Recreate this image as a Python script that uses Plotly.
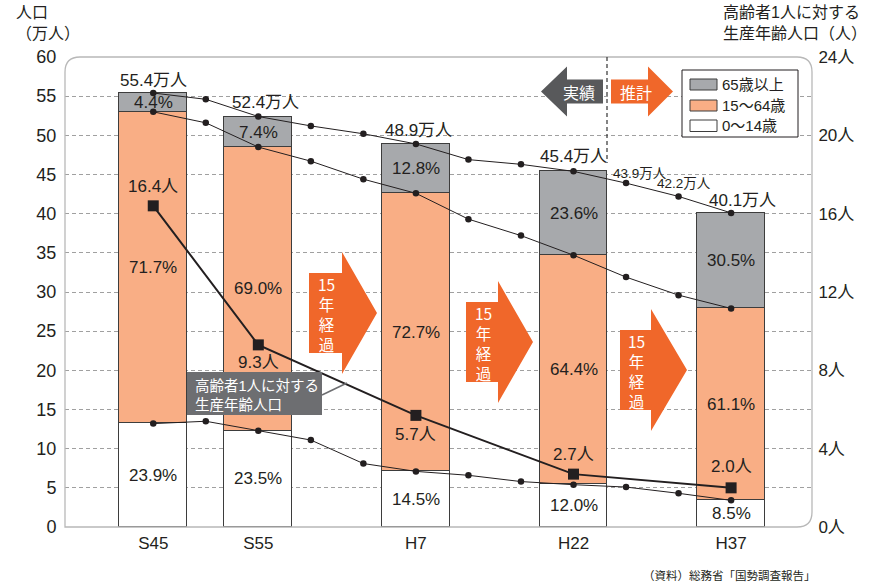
import plotly.graph_objects as go

# ---- data -------------------------------------------------------------
bar_years = [1970, 1980, 1995, 2010, 2025]
bar_labels = ["S45", "S55", "H7", "H22", "H37"]
total_pop = [55.4, 52.4, 48.9, 45.4, 40.1]        # 万人
share_0_14 = [23.9, 23.5, 14.5, 12.0, 8.5]        # %
share_15_64 = [71.7, 69.0, 72.7, 64.4, 61.1]      # %
share_65 = [4.4, 7.4, 12.8, 23.6, 30.5]           # %
support_ratio = [16.4, 9.3, 5.7, 2.7, 2.0]        # 人 (15-64 per person 65+)

line_years = [1970, 1975, 1980, 1985, 1990, 1995, 2000, 2005, 2010, 2015, 2020, 2025]
line_total = [55.4, 54.6, 52.4, 51.2, 50.2, 48.9, 46.9, 46.3, 45.4, 43.9, 42.2, 40.1]
line_under65 = [53.0, 51.6, 48.5, 46.7, 44.4, 42.6, 39.3, 37.2, 34.7, 31.9, 29.6, 27.9]
line_under15 = [13.2, 13.5, 12.3, 11.1, 8.1, 7.1, 6.6, 5.8, 5.4, 5.1, 4.3, 3.4]

# ---- styling ----------------------------------------------------------
NUM = "Liberation Sans, Arial, Noto Sans CJK JP"
JP = "Noto Sans CJK JP, Noto Sans CJK SC, sans-serif"
INK = "#231f20"
GRAY = "#a7a9ac"
ORANGE = "#f9ae85"
ARROW = "#f0672a"
DARK = "#58595b"
EDGE = "#3d3d3d"

# plot-area geometry (pixels) used to place decorations in paper units
L, R, T, B = 65, 812, 57, 527
W, H = R - L, B - T


def px(x):
    return (x - L) / W


def py(y):
    return (B - y) / H


def pt(x, y):
    return f"{px(x):.5f},{py(y):.5f}"


# segment sizes (万人)
seg_0_14 = [t * s / 100 for t, s in zip(total_pop, share_0_14)]
seg_15_64 = [t * s / 100 for t, s in zip(total_pop, share_15_64)]
seg_65 = [t * s / 100 for t, s in zip(total_pop, share_65)]

BAR_W = 6.47  # years

fig = go.Figure()
for vals, col in [(seg_0_14, "white"), (seg_15_64, ORANGE), (seg_65, GRAY)]:
    fig.add_trace(go.Bar(
        x=bar_years, y=vals, width=BAR_W, marker=dict(color=col, line=dict(color=EDGE, width=1.3)),
        hoverinfo="skip", showlegend=False))

for vals in [line_total, line_under65, line_under15]:
    fig.add_trace(go.Scatter(
        x=line_years, y=vals, mode="lines+markers",
        line=dict(color=INK, width=1), marker=dict(color=INK, size=6.5),
        hoverinfo="skip", showlegend=False))

fig.add_trace(go.Scatter(
    x=bar_years, y=support_ratio, yaxis="y2", mode="lines+markers",
    line=dict(color=INK, width=2), marker=dict(color=INK, size=11, symbol="square"),
    hoverinfo="skip", showlegend=False))

ann = []

# percentage labels inside the bar segments
for i, yr in enumerate(bar_years):
    bottoms = [0, seg_0_14[i], seg_0_14[i] + seg_15_64[i]]
    sizes = [seg_0_14[i], seg_15_64[i], seg_65[i]]
    shares = [share_0_14[i], share_15_64[i], share_65[i]]
    for b0, sz, sh in zip(bottoms, sizes, shares):
        ann.append(dict(x=yr, y=b0 + sz / 2, xref="x", yref="y", text=f"{sh:.1f}%",
                        showarrow=False, font=dict(family=NUM, size=17, color=INK)))

# total population labels
total_shift = [(0, 13), (7, 14), (3, 13), (0, 15), (11, 12)]
for yr, v, (dx, dy) in zip(bar_years, total_pop, total_shift):
    ann.append(dict(x=yr, y=v, xref="x", yref="y", text=f"{v}万人", showarrow=False,
                    xshift=dx, yshift=dy, font=dict(family=NUM, size=17, color=INK)))
for idx, (dx, dy) in [(9, (14, 10)), (10, (5, 13))]:
    ann.append(dict(x=line_years[idx], y=line_total[idx], xref="x", yref="y",
                    text=f"{line_total[idx]}万人", showarrow=False, xshift=dx, yshift=dy,
                    font=dict(family=NUM, size=13.5, color=INK)))

# support ratio labels
ratio_shift = [19, -18, -19, 20, 21]
for yr, v, dy in zip(bar_years, support_ratio, ratio_shift):
    ann.append(dict(x=yr, y=v, xref="x", yref="y2", text=f"{v}人", showarrow=False,
                    yshift=dy, font=dict(family=NUM, size=17, color=INK)))


def ptext(x, y, text, size, color=INK, anchor="center", family=JP):
    ann.append(dict(x=px(x), y=py(y), xref="paper", yref="paper", text=text, showarrow=False,
                    xanchor=anchor, yanchor="middle", align=anchor if anchor != "center" else "center",
                    font=dict(family=family, size=size, color=color)))


# axis titles
ptext(14, 23, "人口<br>（万人）", 16, anchor="left", family=NUM)
ptext(721, 23, "高齢者1人に対する<br>生産年齢人口（人）", 16, anchor="left", family=NUM)

# source
ptext(818, 575, "（資料）総務省「国勢調査報告」", 11.5, anchor="right")

shapes = []

# rounded plot frame
rr = 15
frame = (f"M{pt(L, B)} L{pt(L, T + rr)} Q{pt(L, T)} {pt(L + rr, T)} "
         f"L{pt(R - rr, T)} Q{pt(R, T)} {pt(R, T + rr)} "
         f"L{pt(R, B - rr)} Q{pt(R, B)} {pt(R - rr, B)} Z")
shapes.append(dict(type="path", xref="paper", yref="paper", path=frame,
                   line=dict(color="#b8b8b8", width=1.3), layer="above"))


def right_arrow(x0, x1, tip, yc, hr, hh):
    return (f"M{pt(x0, yc - hr)} L{pt(x1, yc - hr)} L{pt(x1, yc - hh)} L{pt(tip, yc)} "
            f"L{pt(x1, yc + hh)} L{pt(x1, yc + hr)} L{pt(x0, yc + hr)} Z")


def left_arrow(tip, x1, x0, yc, hr, hh):
    return (f"M{pt(tip, yc)} L{pt(x1, yc - hh)} L{pt(x1, yc - hr)} L{pt(x0, yc - hr)} "
            f"L{pt(x0, yc + hr)} L{pt(x1, yc + hr)} L{pt(x1, yc + hh)} Z")


# "15年経過" arrows between survey years (text stacked vertically)
for x0, x1, tip, yc in [(309, 342, 377, 313), (466, 498, 533, 342), (620, 651, 687, 370)]:
    shapes.append(dict(type="path", xref="paper", yref="paper",
                       path=right_arrow(x0, x1, tip, yc, 40, 61),
                       fillcolor=ARROW, line=dict(width=0), layer="above"))
    ann.append(dict(x=px((x0 + x1) / 2 + 1), y=py(yc + 1), xref="paper", yref="paper",
                    text="15<br>年<br>経<br>過", showarrow=False, xanchor="center",
                    yanchor="middle", align="center",
                    font=dict(family=JP, size=15.5, color="white")))

# 実績 / 推計 markers
shapes.append(dict(type="path", xref="paper", yref="paper",
                   path=left_arrow(541, 567, 603, 91.5, 12, 25),
                   fillcolor=DARK, line=dict(width=0), layer="above"))
shapes.append(dict(type="path", xref="paper", yref="paper",
                   path=right_arrow(611, 648, 673, 91.5, 12, 25),
                   fillcolor=ARROW, line=dict(width=0), layer="above"))
ptext(579, 91.5, "実績", 16, color="white")
ptext(636, 91.5, "推計", 16, color="white")
shapes.append(dict(type="line", xref="paper", yref="paper", x0=px(607), x1=px(607),
                   y0=py(T), y1=py(163), line=dict(color="#333333", width=1.2, dash="4px,3px"),
                   layer="above"))

# legend box
shapes.append(dict(type="rect", xref="paper", yref="paper", x0=px(682), x1=px(798),
                   y0=py(70), y1=py(137), fillcolor="white", line=dict(color=INK, width=1),
                   layer="above"))
for (y0, y1), col, lab in zip([(79, 90), (100, 111), (120, 131.5)], [GRAY, ORANGE, "white"],
                              ["65歳以上", "15〜64歳", "0〜14歳"]):
    shapes.append(dict(type="rect", xref="paper", yref="paper", x0=px(690), x1=px(717),
                       y0=py(y0), y1=py(y1), fillcolor=col, line=dict(color=EDGE, width=1),
                       layer="above"))
    ptext(720, (y0 + y1) / 2, lab, 15, anchor="left", family=NUM)

# callout for the support-ratio line
shapes.append(dict(type="rect", xref="paper", yref="paper", x0=px(187), x1=px(322),
                   y0=py(372), y1=py(415), fillcolor="#6d6e71", line=dict(width=0), layer="above"))
shapes.append(dict(type="line", xref="paper", yref="paper", x0=px(322), x1=px(347),
                   y0=py(395), y1=py(383), line=dict(color="#6d6e71", width=1.5), layer="above"))
ptext(193, 386, "高齢者1人に対する", 14.5, color="white", anchor="left", family=NUM)
ptext(193, 403, "生産年齢人口", 14.5, color="white", anchor="left")

fig.update_layout(
    width=877, height=584,
    margin=dict(l=L, r=877 - R, t=T, b=584 - B),
    paper_bgcolor="white", plot_bgcolor="white",
    barmode="stack", bargap=0,
    showlegend=False,
    xaxis=dict(range=[1961.6, 2032.7], tickvals=bar_years, ticktext=bar_labels,
               showgrid=False, zeroline=False, showline=False,
               ticks="outside", ticklen=1, tickcolor="rgba(0,0,0,0)",
               tickfont=dict(family=NUM, size=17, color=INK)),
    yaxis=dict(range=[0, 60], dtick=5, showgrid=True, gridcolor="#a0a0a0", gridwidth=1,
               griddash="4px,3px", zeroline=False, showline=False,
               ticks="outside", ticklen=4, tickcolor="rgba(0,0,0,0)",
               tickfont=dict(family=NUM, size=18, color=INK)),
    yaxis2=dict(range=[0, 24], dtick=4, overlaying="y", side="right", showgrid=False,
                zeroline=False, showline=False, ticksuffix="人",
                ticks="outside", ticklen=2, tickcolor="rgba(0,0,0,0)",
                tickfont=dict(family=NUM, size=17, color=INK)),
    annotations=ann,
    shapes=shapes,
)

fig.write_html("out.html")
